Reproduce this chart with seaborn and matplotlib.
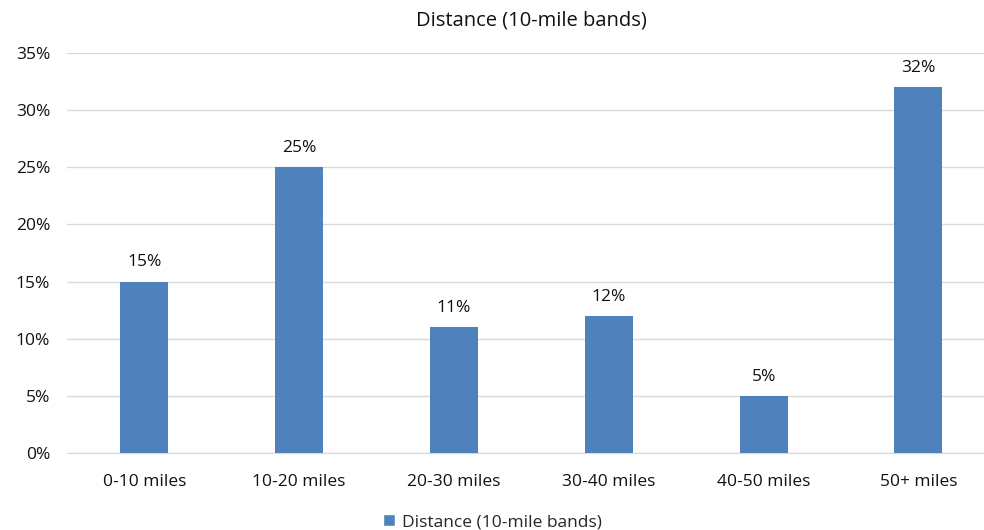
import matplotlib
matplotlib.use('Agg')
import matplotlib.pyplot as plt
import seaborn as sns
import pandas as pd
from matplotlib.ticker import PercentFormatter
from matplotlib.patches import Patch

# 데이터
bands = ['0-10 miles', '10-20 miles', '20-30 miles', '30-40 miles', '40-50 miles', '50+ miles']
shares = [15, 25, 11, 12, 5, 32]
series_name = 'Distance (10-mile bands)'

df = pd.DataFrame({'band': bands, 'share': shares})

sns.set_style('white')
plt.rcParams['font.family'] = ['Open Sans', 'DejaVu Sans']

bar_color = '#4F81BD'
text_color = '#111111'

fig, ax = plt.subplots(figsize=(9.84, 5.30), dpi=100)
fig.subplots_adjust(left=0.068, right=1.012, top=0.9, bottom=0.145)

sns.barplot(data=df, x='band', y='share', color=bar_color, saturation=1, width=0.31,
            linewidth=0, ax=ax, zorder=3)

for i, v in enumerate(shares):
    ax.text(i, v + 1.0, f'{v}%', ha='center', va='bottom', fontsize=12.5, color=text_color)

ax.set_ylim(0, 35)
ax.set_yticks(range(0, 36, 5))
ax.yaxis.set_major_formatter(PercentFormatter(decimals=0))
ax.grid(axis='y', color='#D9D9D9', linewidth=1, zorder=0)
ax.set_xlabel('')
ax.set_ylabel('')
ax.set_title(series_name, fontsize=14.5, color=text_color, pad=20)
ax.tick_params(axis='both', labelsize=12.5, length=0, colors=text_color)
ax.tick_params(axis='y', pad=12)
ax.tick_params(axis='x', pad=15)
for s in ['top', 'right', 'left']:
    ax.spines[s].set_visible(False)
ax.spines['bottom'].set_color('#D9D9D9')

handle = [Patch(facecolor=bar_color, label=series_name)]
fig.legend(handles=handle, loc='lower center', bbox_to_anchor=(0.5, -0.03), frameon=False,
           fontsize=12.5, handlelength=0.7, handleheight=0.7, handletextpad=0.4)

fig.savefig('out.png', dpi=100)
